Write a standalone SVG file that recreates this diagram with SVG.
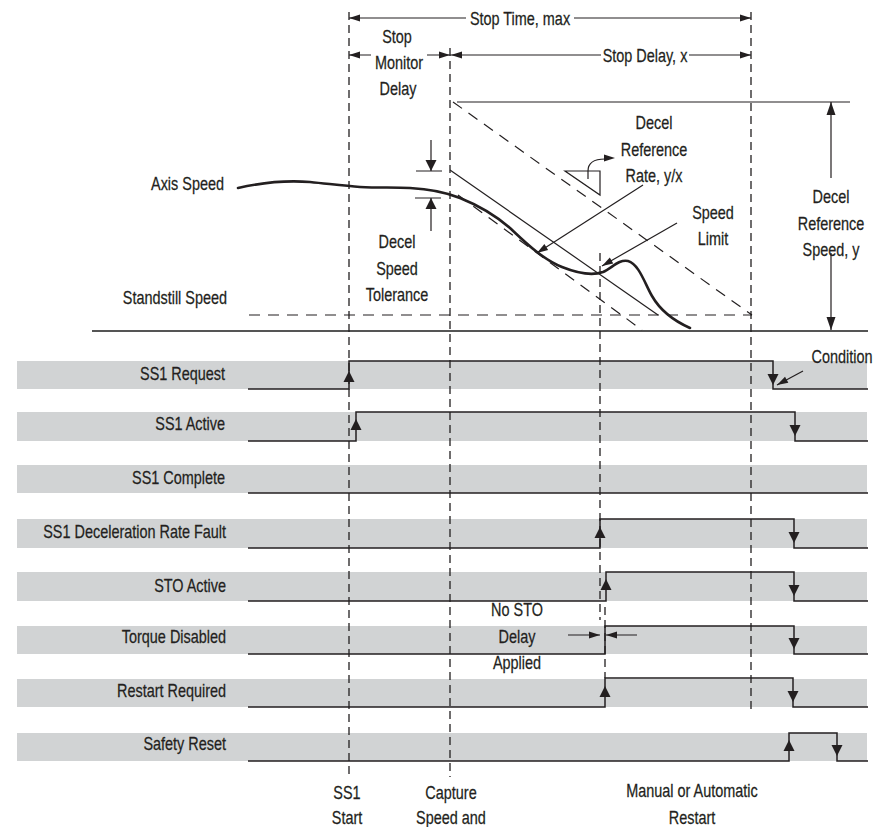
<svg xmlns="http://www.w3.org/2000/svg" xmlns:xlink="http://www.w3.org/1999/xlink" width="881" height="827" viewBox="0 0 881 827">
<style>
  .t{font-family:"Liberation Sans",Arial,sans-serif;font-size:18.5px;fill:#231f20;stroke:#231f20;stroke-width:0.25}
  .e{text-anchor:end}
  .m{text-anchor:middle}
  .band{fill:#d1d3d4}
  .sig{fill:none;stroke:#231f20;stroke-width:1.5}
  .ln{fill:none;stroke:#231f20;stroke-width:1.2}
  .thick{fill:none;stroke:#231f20;stroke-width:2.6;stroke-linecap:round}
  .axis{fill:none;stroke:#555;stroke-width:1.8}
  .vd{fill:none;stroke:#231f20;stroke-width:1.3;stroke-dasharray:8 5}
  .dd{fill:none;stroke:#231f20;stroke-width:1.2;stroke-dasharray:11 8}
  .ah{fill:#231f20}
</style>
<defs>
  <path id="up" class="ah" d="M0,0 L-5.5,11 L5.5,11 Z"/>
  <path id="sr" class="ah" d="M0,0 L-11,-3.5 L-11,3.5 Z"/>
  <path id="med" class="ah" d="M0,0 L-4.5,13 L4.5,13 Z"/>
</defs>

<!-- signal bands and labels -->
<g id="row-ss1-request">
  <rect class="band" x="17" y="361" width="850" height="28"/>
  <text class="t e" transform="translate(225,380) scale(0.78 1)">SS1 Request</text>
  <path class="sig" d="M248,389 H349 V361 H773 V389 H868"/>
  <use xlink:href="#up" transform="translate(349,371)"/>
  <use xlink:href="#up" transform="translate(773,385) rotate(180)"/>
</g>
<g id="row-ss1-active">
  <rect class="band" x="17" y="412" width="850" height="29"/>
  <text class="t e" transform="translate(225,430) scale(0.78 1)">SS1 Active</text>
  <path class="sig" d="M248,441 H356 V412 H795 V441 H868"/>
  <use xlink:href="#up" transform="translate(356,419)"/>
  <use xlink:href="#up" transform="translate(795,436) rotate(180)"/>
</g>
<g id="row-ss1-complete">
  <rect class="band" x="17" y="465" width="850" height="28"/>
  <text class="t e" transform="translate(225,484) scale(0.78 1)">SS1 Complete</text>
  <path class="sig" d="M248,493 H868"/>
</g>
<g id="row-ss1-fault">
  <rect class="band" x="17" y="519" width="850" height="29"/>
  <text class="t e" transform="translate(226,538) scale(0.78 1)">SS1 Deceleration Rate Fault</text>
  <path class="sig" d="M248,548 H600 V519 H794 V548 H868"/>
  <use xlink:href="#up" transform="translate(600,527)"/>
  <use xlink:href="#up" transform="translate(794,543) rotate(180)"/>
</g>
<g id="row-sto-active">
  <rect class="band" x="17" y="572" width="850" height="29"/>
  <text class="t e" transform="translate(226,592) scale(0.78 1)">STO Active</text>
  <path class="sig" d="M248,601 H606 V572 H794 V601 H868"/>
  <use xlink:href="#up" transform="translate(606,579)"/>
  <use xlink:href="#up" transform="translate(794,596) rotate(180)"/>
</g>
<g id="row-torque-disabled">
  <rect class="band" x="17" y="626" width="850" height="28"/>
  <text class="t e" transform="translate(226,643) scale(0.78 1)">Torque Disabled</text>
  <path class="sig" d="M248,654 H605 V626 H794 V654 H868"/>
  <use xlink:href="#up" transform="translate(794,649) rotate(180)"/>
</g>
<g id="row-restart-required">
  <rect class="band" x="17" y="679" width="850" height="28"/>
  <text class="t e" transform="translate(226,697) scale(0.78 1)">Restart Required</text>
  <path class="sig" d="M248,707 H605 V678 H793 V707 H868"/>
  <use xlink:href="#up" transform="translate(605,686)"/>
  <use xlink:href="#up" transform="translate(793,702) rotate(180)"/>
</g>
<g id="row-safety-reset">
  <rect class="band" x="17" y="733" width="850" height="28"/>
  <text class="t e" transform="translate(226,750) scale(0.78 1)">Safety Reset</text>
  <path class="sig" d="M248,761 H789 V733 H837 V761 H868"/>
  <use xlink:href="#up" transform="translate(789,740)"/>
  <use xlink:href="#up" transform="translate(837,756) rotate(180)"/>
</g>

<!-- speed chart -->
<g id="speed-chart">
  <path class="axis" d="M92,331 H868"/>
  <path class="ln" d="M457,102 H850"/>
  <path class="dd" d="M249,315 H752"/>
  <path class="dd" d="M453,102 L752,315"/>
  <path class="dd" d="M458,195 L642,330"/>
  <path class="ln" d="M450,170 L658,315"/>
  <path class="thick" d="M238,188 C260,183 285,180 310,182 C330,184 345,186 360,187 C380,188 395,187 410,188 C430,189 445,192 460,198 C480,206 495,215 510,228 C525,242 542,259 562,267 C577,273 592,276 603,272 C612,268 619,259 628,261 C639,264 645,284 652,296 C660,310 672,320 690,328"/>
  <text class="t e" transform="translate(224,190) scale(0.78 1)">Axis Speed</text>
  <text class="t e" transform="translate(227,304) scale(0.78 1)">Standstill Speed</text>
</g>

<!-- vertical event lines -->
<g id="event-lines">
  <path class="vd" d="M349,12 V777"/>
  <path class="vd" d="M450,48 V777"/>
  <path class="vd" d="M600,253 V620"/>
  <path class="vd" d="M605,607 V678"/>
  <path class="vd" d="M751,12 V713"/>
</g>

<!-- dimension connectors -->
<g id="connectors">
  <path class="ln" d="M349,18 H466 M574,18 H751"/>
  <use xlink:href="#sr" transform="translate(349,18) rotate(180)"/>
  <use xlink:href="#sr" transform="translate(751,18)"/>
  <path class="ln" d="M349,55 H371 M427,55 H450"/>
  <use xlink:href="#sr" transform="translate(349,55) rotate(180)"/>
  <use xlink:href="#sr" transform="translate(450,55)"/>
  <path class="ln" d="M450,55 H601 M689,55 H751"/>
  <use xlink:href="#sr" transform="translate(451,55) rotate(180)"/>
  <use xlink:href="#sr" transform="translate(751,55)"/>
  <!-- decel reference speed -->
  <path class="ln" d="M831,102 V178 M831,253 V330"/>
  <use xlink:href="#med" transform="translate(831,102)"/>
  <use xlink:href="#med" transform="translate(831,330) rotate(180)"/>
  <!-- decel speed tolerance -->
  <path class="ln" d="M416,171 H442 M415,198 H441 M431,140 V171 M431,231 V198"/>
  <use xlink:href="#up" transform="translate(431,171) rotate(180)"/>
  <use xlink:href="#up" transform="translate(431,198)"/>
  <!-- rate triangle and curved arrow -->
  <path class="ln" d="M565,171 H600 V195 Z"/>
  <path class="ln" d="M588,179 V171 C588,163 594,159 605,159"/>
  <use xlink:href="#sr" transform="translate(615,158)"/>
  <!-- leaders -->
  <path class="ln" d="M643,185 L537,253"/>
  <use xlink:href="#sr" transform="translate(537,253) rotate(147.3)"/>
  <path class="ln" d="M677,223 L602,266"/>
  <use xlink:href="#sr" transform="translate(602,266) rotate(150.2)"/>
  <path class="ln" d="M803,371 L777,385"/>
  <use xlink:href="#sr" transform="translate(777,385) rotate(151.7)"/>
  <!-- no STO delay -->
  <path class="ln" d="M568,635 H600 M606,635 H637"/>
  <use xlink:href="#sr" transform="translate(600,635)"/>
  <use xlink:href="#sr" transform="translate(606,635) rotate(180)"/>
</g>

<!-- annotation labels -->
<g id="labels">
  <text class="t m" transform="translate(520,25) scale(0.78 1)">Stop Time, max</text>
  <text class="t m" transform="translate(397,43) scale(0.78 1)">Stop</text>
  <text class="t m" transform="translate(399,69) scale(0.78 1)">Monitor</text>
  <text class="t m" transform="translate(398,95) scale(0.78 1)">Delay</text>
  <text class="t m" transform="translate(645,62) scale(0.78 1)">Stop Delay, x</text>
  <text class="t m" transform="translate(654,129) scale(0.78 1)">Decel</text>
  <text class="t m" transform="translate(654,156) scale(0.78 1)">Reference</text>
  <text class="t m" transform="translate(654,182) scale(0.78 1)">Rate, y/x</text>
  <text class="t m" transform="translate(713,219) scale(0.78 1)">Speed</text>
  <text class="t m" transform="translate(713,245) scale(0.78 1)">Limit</text>
  <text class="t m" transform="translate(831,203) scale(0.78 1)">Decel</text>
  <text class="t m" transform="translate(831,230) scale(0.78 1)">Reference</text>
  <text class="t m" transform="translate(831,256) scale(0.78 1)">Speed, y</text>
  <text class="t m" transform="translate(397,248) scale(0.78 1)">Decel</text>
  <text class="t m" transform="translate(397,275) scale(0.78 1)">Speed</text>
  <text class="t m" transform="translate(397,301) scale(0.78 1)">Tolerance</text>
  <text class="t m" transform="translate(842,363) scale(0.78 1)">Condition</text>
  <text class="t m" transform="translate(517,616) scale(0.78 1)">No STO</text>
  <text class="t m" transform="translate(517,643) scale(0.78 1)">Delay</text>
  <text class="t m" transform="translate(517,669) scale(0.78 1)">Applied</text>
  <text class="t m" transform="translate(347,799) scale(0.78 1)">SS1</text>
  <text class="t m" transform="translate(347,824) scale(0.78 1)">Start</text>
  <text class="t m" transform="translate(451,799) scale(0.78 1)">Capture</text>
  <text class="t m" transform="translate(451,824) scale(0.78 1)">Speed and</text>
  <text class="t m" transform="translate(692,797) scale(0.78 1)">Manual or Automatic</text>
  <text class="t m" transform="translate(692,824) scale(0.78 1)">Restart</text>
</g>
</svg>
